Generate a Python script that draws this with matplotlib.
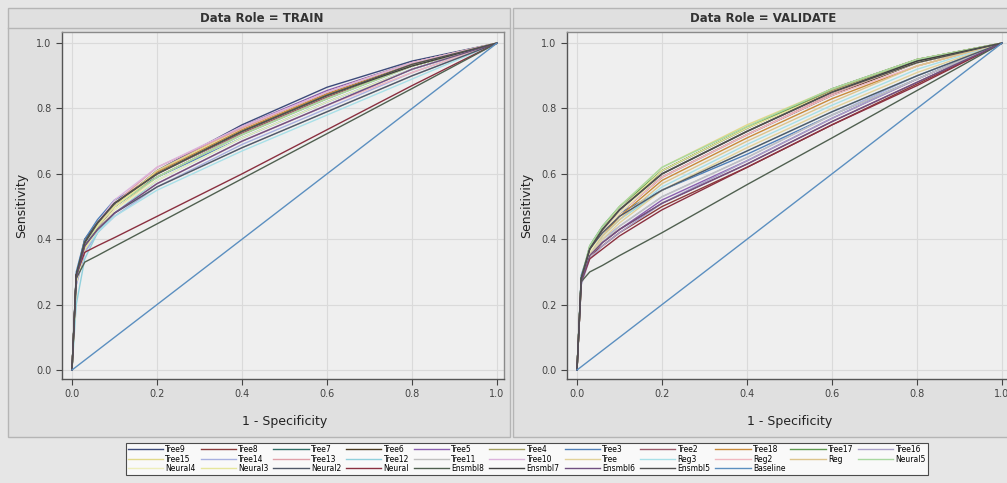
import matplotlib.pyplot as plt
from matplotlib.patches import Rectangle
from matplotlib.lines import Line2D

# series names (legend order, row by row)
names = ["Tree9", "Tree8", "Tree7", "Tree6", "Tree5", "Tree4", "Tree3", "Tree2",
         "Tree18", "Tree17", "Tree16",
         "Tree15", "Tree14", "Tree13", "Tree12", "Tree11", "Tree10", "Tree", "Reg3",
         "Reg2", "Reg", "Neural5",
         "Neural4", "Neural3", "Neural2", "Neural", "Ensmbl8", "Ensmbl7", "Ensmbl6",
         "Ensmbl5", "Baseline"]

colors = ["#3c4a7a", "#8b3a3a", "#2f6f68", "#4a3a20", "#8a5fb0", "#a4a060", "#4f7fb8",
          "#9c5a6a", "#c98a3a", "#5f9a50", "#a8a0c8",
          "#e2d98a", "#a8b0e0", "#e0a0a8", "#90d0dc", "#c0c0c0", "#dcb4dc", "#e2d29a",
          "#a8e0e8", "#f0b8c0", "#dcc48c", "#a8d8a0",
          "#eeeebb", "#e6e69c", "#505868", "#8b3040", "#506050", "#404040", "#705080",
          "#505050", "#5b8fc0"]

# 1 - specificity grid shared by all curves
fpr = [0, 0.01, 0.03, 0.06, 0.1, 0.2, 0.4, 0.6, 0.8, 1.0]

train = {
    "Tree9":   [0, 0.27, 0.38, 0.44, 0.50, 0.61, 0.75, 0.865, 0.945, 1],
    "Tree8":   [0, 0.29, 0.39, 0.45, 0.51, 0.60, 0.73, 0.84, 0.935, 1],
    "Tree7":   [0, 0.28, 0.39, 0.44, 0.50, 0.59, 0.72, 0.83, 0.93, 1],
    "Tree6":   [0, 0.29, 0.40, 0.45, 0.51, 0.60, 0.73, 0.845, 0.935, 1],
    "Tree5":   [0, 0.27, 0.37, 0.43, 0.50, 0.61, 0.745, 0.855, 0.94, 1],
    "Tree4":   [0, 0.28, 0.38, 0.44, 0.50, 0.60, 0.73, 0.84, 0.93, 1],
    "Tree3":   [0, 0.30, 0.40, 0.46, 0.52, 0.59, 0.71, 0.82, 0.92, 1],
    "Tree2":   [0, 0.28, 0.38, 0.44, 0.50, 0.60, 0.725, 0.835, 0.93, 1],
    "Tree18":  [0, 0.28, 0.39, 0.45, 0.51, 0.605, 0.735, 0.845, 0.935, 1],
    "Tree17":  [0, 0.29, 0.39, 0.45, 0.51, 0.60, 0.73, 0.84, 0.93, 1],
    "Tree16":  [0, 0.26, 0.36, 0.42, 0.48, 0.57, 0.70, 0.81, 0.92, 1],
    "Tree15":  [0, 0.27, 0.37, 0.44, 0.50, 0.61, 0.74, 0.85, 0.94, 1],
    "Tree14":  [0, 0.26, 0.36, 0.42, 0.47, 0.56, 0.69, 0.80, 0.91, 1],
    "Tree13":  [0, 0.27, 0.38, 0.44, 0.51, 0.62, 0.74, 0.85, 0.94, 1],
    "Tree12":  [0, 0.20, 0.34, 0.42, 0.48, 0.58, 0.71, 0.82, 0.92, 1],
    "Tree11":  [0, 0.28, 0.37, 0.43, 0.48, 0.56, 0.68, 0.79, 0.90, 1],
    "Tree10":  [0, 0.28, 0.38, 0.45, 0.52, 0.62, 0.745, 0.85, 0.94, 1],
    "Tree":    [0, 0.27, 0.37, 0.43, 0.49, 0.59, 0.72, 0.83, 0.93, 1],
    "Reg3":    [0, 0.28, 0.37, 0.42, 0.47, 0.55, 0.67, 0.78, 0.89, 1],
    "Reg2":    [0, 0.28, 0.37, 0.43, 0.48, 0.57, 0.70, 0.81, 0.91, 1],
    "Reg":     [0, 0.28, 0.38, 0.44, 0.50, 0.60, 0.73, 0.84, 0.935, 1],
    "Neural5": [0, 0.28, 0.38, 0.44, 0.50, 0.59, 0.72, 0.83, 0.93, 1],
    "Neural4": [0, 0.27, 0.37, 0.43, 0.49, 0.58, 0.71, 0.82, 0.92, 1],
    "Neural3": [0, 0.27, 0.37, 0.44, 0.50, 0.60, 0.73, 0.84, 0.93, 1],
    "Neural2": [0, 0.29, 0.38, 0.43, 0.48, 0.56, 0.68, 0.79, 0.90, 1],
    "Neural":  [0, 0.29, 0.36, 0.38, 0.405, 0.47, 0.60, 0.735, 0.87, 1],
    "Ensmbl8": [0, 0.28, 0.33, 0.35, 0.378, 0.447, 0.585, 0.723, 0.861, 1],
    "Ensmbl7": [0, 0.29, 0.39, 0.45, 0.51, 0.60, 0.73, 0.84, 0.93, 1],
    "Ensmbl6": [0, 0.28, 0.38, 0.43, 0.48, 0.57, 0.70, 0.81, 0.92, 1],
    "Ensmbl5": [0, 0.29, 0.39, 0.45, 0.51, 0.60, 0.73, 0.84, 0.935, 1],
    "Baseline": [0, 0.01, 0.03, 0.06, 0.1, 0.2, 0.4, 0.6, 0.8, 1.0],
}

validate = {
    "Tree9":   [0, 0.28, 0.37, 0.43, 0.49, 0.61, 0.74, 0.86, 0.95, 1],
    "Tree8":   [0, 0.27, 0.35, 0.38, 0.42, 0.50, 0.62, 0.75, 0.875, 1],
    "Tree7":   [0, 0.28, 0.37, 0.43, 0.49, 0.60, 0.73, 0.85, 0.945, 1],
    "Tree6":   [0, 0.28, 0.37, 0.42, 0.48, 0.59, 0.72, 0.84, 0.94, 1],
    "Tree5":   [0, 0.27, 0.35, 0.39, 0.43, 0.52, 0.64, 0.77, 0.89, 1],
    "Tree4":   [0, 0.28, 0.37, 0.43, 0.49, 0.61, 0.74, 0.855, 0.95, 1],
    "Tree3":   [0, 0.29, 0.37, 0.43, 0.48, 0.55, 0.66, 0.78, 0.89, 1],
    "Tree2":   [0, 0.27, 0.35, 0.39, 0.43, 0.51, 0.63, 0.76, 0.88, 1],
    "Tree18":  [0, 0.27, 0.36, 0.41, 0.47, 0.58, 0.71, 0.83, 0.93, 1],
    "Tree17":  [0, 0.28, 0.38, 0.44, 0.50, 0.61, 0.74, 0.86, 0.95, 1],
    "Tree16":  [0, 0.26, 0.34, 0.38, 0.42, 0.51, 0.64, 0.77, 0.89, 1],
    "Tree15":  [0, 0.28, 0.37, 0.43, 0.50, 0.62, 0.75, 0.86, 0.95, 1],
    "Tree14":  [0, 0.27, 0.35, 0.40, 0.44, 0.53, 0.65, 0.78, 0.90, 1],
    "Tree13":  [0, 0.27, 0.36, 0.42, 0.48, 0.59, 0.72, 0.845, 0.94, 1],
    "Tree12":  [0, 0.27, 0.36, 0.41, 0.46, 0.55, 0.67, 0.79, 0.90, 1],
    "Tree11":  [0, 0.27, 0.35, 0.39, 0.44, 0.53, 0.65, 0.78, 0.89, 1],
    "Tree10":  [0, 0.27, 0.36, 0.42, 0.49, 0.60, 0.73, 0.85, 0.94, 1],
    "Tree":    [0, 0.27, 0.35, 0.40, 0.45, 0.55, 0.68, 0.80, 0.91, 1],
    "Reg3":    [0, 0.27, 0.36, 0.41, 0.46, 0.56, 0.69, 0.81, 0.92, 1],
    "Reg2":    [0, 0.27, 0.36, 0.42, 0.48, 0.59, 0.72, 0.84, 0.93, 1],
    "Reg":     [0, 0.27, 0.36, 0.41, 0.46, 0.57, 0.70, 0.82, 0.93, 1],
    "Neural5": [0, 0.28, 0.38, 0.44, 0.50, 0.62, 0.745, 0.86, 0.95, 1],
    "Neural4": [0, 0.27, 0.36, 0.42, 0.48, 0.60, 0.73, 0.85, 0.94, 1],
    "Neural3": [0, 0.27, 0.37, 0.43, 0.49, 0.61, 0.74, 0.85, 0.94, 1],
    "Neural2": [0, 0.28, 0.37, 0.42, 0.47, 0.55, 0.67, 0.79, 0.90, 1],
    "Neural":  [0, 0.27, 0.34, 0.37, 0.41, 0.49, 0.62, 0.75, 0.87, 1],
    "Ensmbl8": [0, 0.27, 0.30, 0.32, 0.35, 0.42, 0.567, 0.71, 0.855, 1],
    "Ensmbl7": [0, 0.28, 0.37, 0.43, 0.49, 0.60, 0.73, 0.85, 0.945, 1],
    "Ensmbl6": [0, 0.27, 0.35, 0.39, 0.43, 0.51, 0.63, 0.76, 0.88, 1],
    "Ensmbl5": [0, 0.28, 0.37, 0.43, 0.49, 0.60, 0.73, 0.85, 0.94, 1],
    "Baseline": [0, 0.01, 0.03, 0.06, 0.1, 0.2, 0.4, 0.6, 0.8, 1.0],
}

W, H = 1007, 483
fig = plt.figure(figsize=(W / 100, H / 100), dpi=100)
fig.patch.set_facecolor("#e6e6e6")


def fx(px):
    return px / W


def fy(py):
    return 1 - py / H


# panel frames and title strips (drawn under the axes)
for x0, x1, title in [(8, 510, "Data Role = TRAIN"), (513, 1012, "Data Role = VALIDATE")]:
    fig.patches.append(Rectangle((fx(x0), fy(437)), fx(x1 - x0), (437 - 8) / H,
                                 transform=fig.transFigure, facecolor="#e0e0e0",
                                 edgecolor="#b5b5b5", lw=1.0, zorder=-5))
    fig.add_artist(Line2D([fx(x0), fx(x1)], [fy(28), fy(28)], color="#b5b5b5", lw=1.0,
                          transform=fig.transFigure, zorder=-4))
    fig.text(fx((x0 + min(x1, W)) / 2 + 3), fy(18), title, ha="center", va="center",
             fontsize=8.5, fontweight="bold", color="#333333")

axes = []
for left, data, xl in [(62, train, 285), (567, validate, 790)]:
    ax = fig.add_axes([fx(left), fy(379), 442 / W, 347 / H])
    ax.set_facecolor("#efefef")
    for name, col in zip(names, colors):
        ax.plot(fpr, data[name], color=col, lw=1.0, label=name)
    ax.set_xlim(-0.0235, 1.0164)
    ax.set_ylim(-0.0275, 1.034)
    ticks = [0, 0.2, 0.4, 0.6, 0.8, 1.0]
    ax.set_xticks(ticks)
    ax.set_yticks(ticks)
    ax.set_xticklabels([f"{t:.1f}" for t in ticks])
    ax.set_yticklabels([f"{t:.1f}" for t in ticks])
    ax.tick_params(labelsize=7, colors="#444444", length=4, width=0.8)
    ax.grid(True, color="#dadada", lw=0.8)
    ax.set_axisbelow(True)
    for s in ["top", "right"]:
        ax.spines[s].set_color("#8a8a8a")
        ax.spines[s].set_linewidth(1.0)
    for s in ["left", "bottom"]:
        ax.spines[s].set_color("#555555")
        ax.spines[s].set_linewidth(1.0)
    fig.text(fx(xl), fy(421), "1 - Specificity", ha="center", va="center",
             fontsize=9, color="#222222")
    fig.text(fx(left - 40), fy(205), "Sensitivity", ha="center", va="center",
             rotation=90, fontsize=9, color="#222222")
    axes.append(ax)

# legend: matplotlib fills columns first, so reorder to read row by row
handles, labels = axes[0].get_legend_handles_labels()
order = []
for c in range(11):
    for r in range(3):
        i = r * 11 + c
        if i < len(names):
            order.append(i)
leg = fig.legend([handles[i] for i in order], [labels[i] for i in order],
                 ncol=11, loc="center", bbox_to_anchor=(fx(527), fy(459)),
                 fontsize=5.5, frameon=True, fancybox=False, edgecolor="#222222",
                 handlelength=4.6, handletextpad=0.3, columnspacing=0.65,
                 labelspacing=0.05, borderpad=0.3)
leg.get_frame().set_linewidth(0.8)

fig.savefig("out.png", dpi=100, facecolor=fig.get_facecolor())
